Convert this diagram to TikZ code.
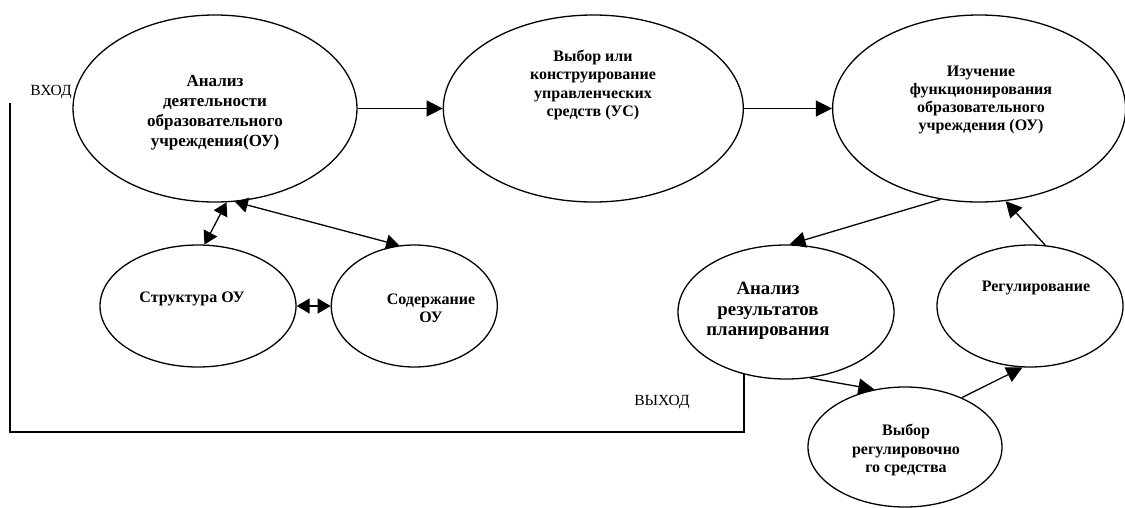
\documentclass[tikz,border=0pt]{standalone}
\usepackage{fontspec}
\setmainfont{Liberation Serif}
\usetikzlibrary{positioning,arrows.meta,shapes.geometric}

\begin{document}
\begin{tikzpicture}[x=1pt,y=-1pt,
    oval/.style={draw,ellipse,line width=1.3pt,inner sep=0pt},
    txt/.style={align=center,inner sep=0pt,
                font=\bfseries\fontsize{16}{18.3}\selectfont},
    note/.style={inner sep=0pt,font=\fontsize{15.5}{18}\selectfont},
    arrow/.style={-{Triangle[length=16pt,width=16pt]},line width=1.3pt},
    both/.style={{Triangle[length=13pt,width=15pt]}-{Triangle[length=13pt,width=15pt]},line width=1.3pt},
    line/.style={line width=1.3pt}]
  \useasboundingbox (0,0) rectangle (1125,507);

  % upper row
  \node[oval, minimum width=284pt, minimum height=187pt] (anl) at (215,108.5) {};
  \node[oval, minimum width=300pt, minimum height=187pt, right=85pt of anl] (vyb) {};
  \node[oval, minimum width=293pt, minimum height=187pt, right=88pt of vyb] (izu) {};

  \node[txt, font=\bfseries\fontsize{17}{20}\selectfont] (anlT) at (215,113)
    {Анализ\\деятельности\\образовательного\\учреждения(ОУ)};
  \node[txt] (vybT) at (593,85) {Выбор или\\конструирование\\управленческих\\средств (УС)};
  \node[txt] (izuT) at (981,100) {Изучение\\функционирования\\образовательного\\учреждения (ОУ)};

  % left group
  \node[oval, minimum width=196pt, minimum height=122pt] (str) at (198,306) {};
  \node[oval, minimum width=166pt, minimum height=122pt, right=34pt of str] (sod) {};
  \node[txt] (strT) at (192,299) {Структура ОУ};
  \node[txt] (sodT) at (431,308) {Содержание\\ОУ};

  % right cycle
  \node[oval, minimum width=216pt, minimum height=134pt] (arz) at (786,312) {};
  \node[oval, minimum width=186pt, minimum height=122pt] (reg) at (1030,306) {};
  \node[oval, minimum width=194pt, minimum height=120pt] (vrs) at (905,447) {};
  \node[txt, font=\bfseries\fontsize{18.8}{20.5}\selectfont] (arzT) at (768,311)
    {Анализ\\результатов\\планирования};
  \node[txt] (regT) at (1036,288) {Регулирование};
  \node[txt] (vrsT) at (906,450) {Выбор\\регулировочно\\го средства};

  \node[note] (inpL) at (51,92) {ВХОД};
  \node[note] (outL) at (662,402) {ВЫХОД};

  \draw[arrow] (anl.east) -- (vyb.west);
  \draw[arrow] (vyb.east) -- (izu.west);
  \draw[both] (anl.-83) -- (str.84);
  \draw[both] (anl.-78) -- (sod.104);
  \draw[both] (str.east) -- (sod.west);

  \draw[arrow] (izu.-113) -- (arz.87);
  \draw[arrow] (arz.-70) -- (vrs.118);
  \draw[arrow] (vrs.41) -- (reg.-97);
  \draw[arrow] (reg.76) -- (izu.-74);

  % feedback loop
  \coordinate (bend) at (10,432);
  \coordinate (inp) at (10,103);
  \draw[line] (arz.-124) |- (bend) -- (inp);
\end{tikzpicture}
\end{document}
